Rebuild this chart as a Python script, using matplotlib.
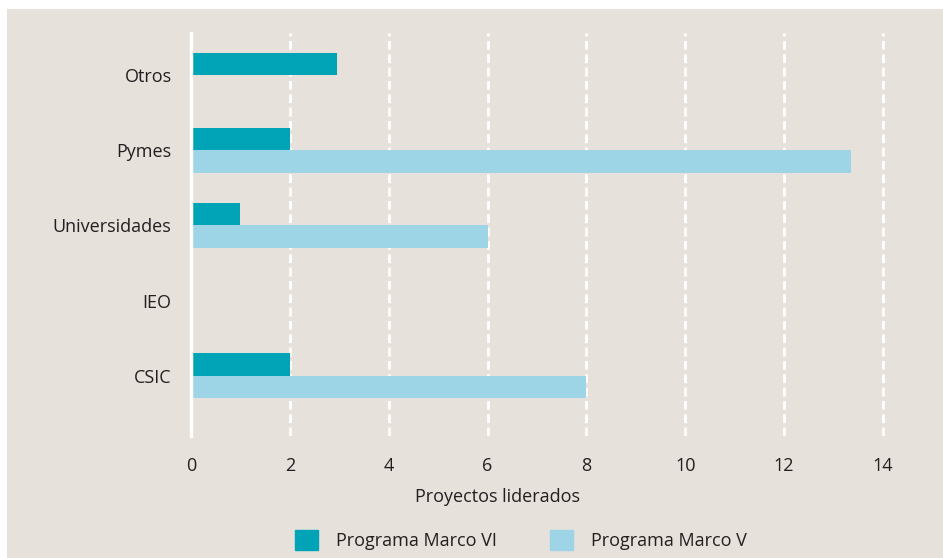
import numpy as np
import matplotlib.pyplot as plt
from matplotlib.patches import Rectangle, Patch

# categories bottom to top
cats = ["CSIC", "IEO", "Universidades", "Pymes", "Otros"]
marco_vi = [2, 0, 1, 2, 2.95]
marco_v = [8, 0, 6, 13.35, 0]
xticks = [0, 2, 4, 6, 8, 10, 12, 14]

bg = "#e6e1db"
teal = "#00a4b6"
light = "#9dd5e6"
txt = "#231f20"

plt.rcParams['font.family'] = ['Open Sans', 'DejaVu Sans']
plt.rcParams['font.size'] = 13

fig = plt.figure(figsize=(9.43, 5.58), dpi=100)
fig.patch.set_facecolor("white")
fig.patches.append(Rectangle((7 / 943, 0), 1, 1 - 9 / 558, transform=fig.transFigure,
                             facecolor=bg, edgecolor="none", zorder=-10))

pxu = (883 - 191) / 14.0  # pixels per unit
xmax = 14.5
ax = fig.add_axes([191 / 943, 1 - 436 / 558, xmax * pxu / 943, (436 - 33) / 558])
ax.set_facecolor("none")

y = np.arange(len(cats))
h = 0.3
ax.barh(y + h / 2, marco_vi, height=h, color=teal, zorder=3, label="Programa Marco VI")
ax.barh(y - h / 2, marco_v, height=h, color=light, zorder=3, label="Programa Marco V")

ax.set_xlim(0, xmax)
ax.set_ylim(-0.80, 4.56)
ax.set_xticks(xticks)
ax.set_yticks(y)
ax.set_yticklabels(cats)

for x in xticks[1:]:
    ax.axvline(x, color="white", lw=2, ls=(0, (3.2, 1.6)), zorder=1)

for s in ["top", "right", "bottom"]:
    ax.spines[s].set_visible(False)
ax.spines["left"].set_color("white")
ax.spines["left"].set_linewidth(2.5)
ax.spines["left"].set_zorder(4)

ax.tick_params(axis="both", length=0, colors=txt)
ax.tick_params(axis="x", pad=15)
ax.tick_params(axis="y", pad=14)
ax.set_xlabel("Proyectos liderados", color=txt, labelpad=12)
ax.xaxis.set_label_coords((497 - 191) / (xmax * pxu), -(497 - 436) / 403, transform=ax.transAxes)
ax.xaxis.label.set_va("center")

handles = [Patch(color=teal, label="Programa Marco VI"),
           Patch(color=light, label="Programa Marco V")]
fig.legend(handles=handles, loc="center", bbox_to_anchor=(521 / 943, 1 - 540 / 558),
           ncol=2, frameon=False, handlelength=1.3, handleheight=1.3,
           handletextpad=1.0, columnspacing=2.9, labelcolor=txt)

fig.savefig("out.png", dpi=100)
